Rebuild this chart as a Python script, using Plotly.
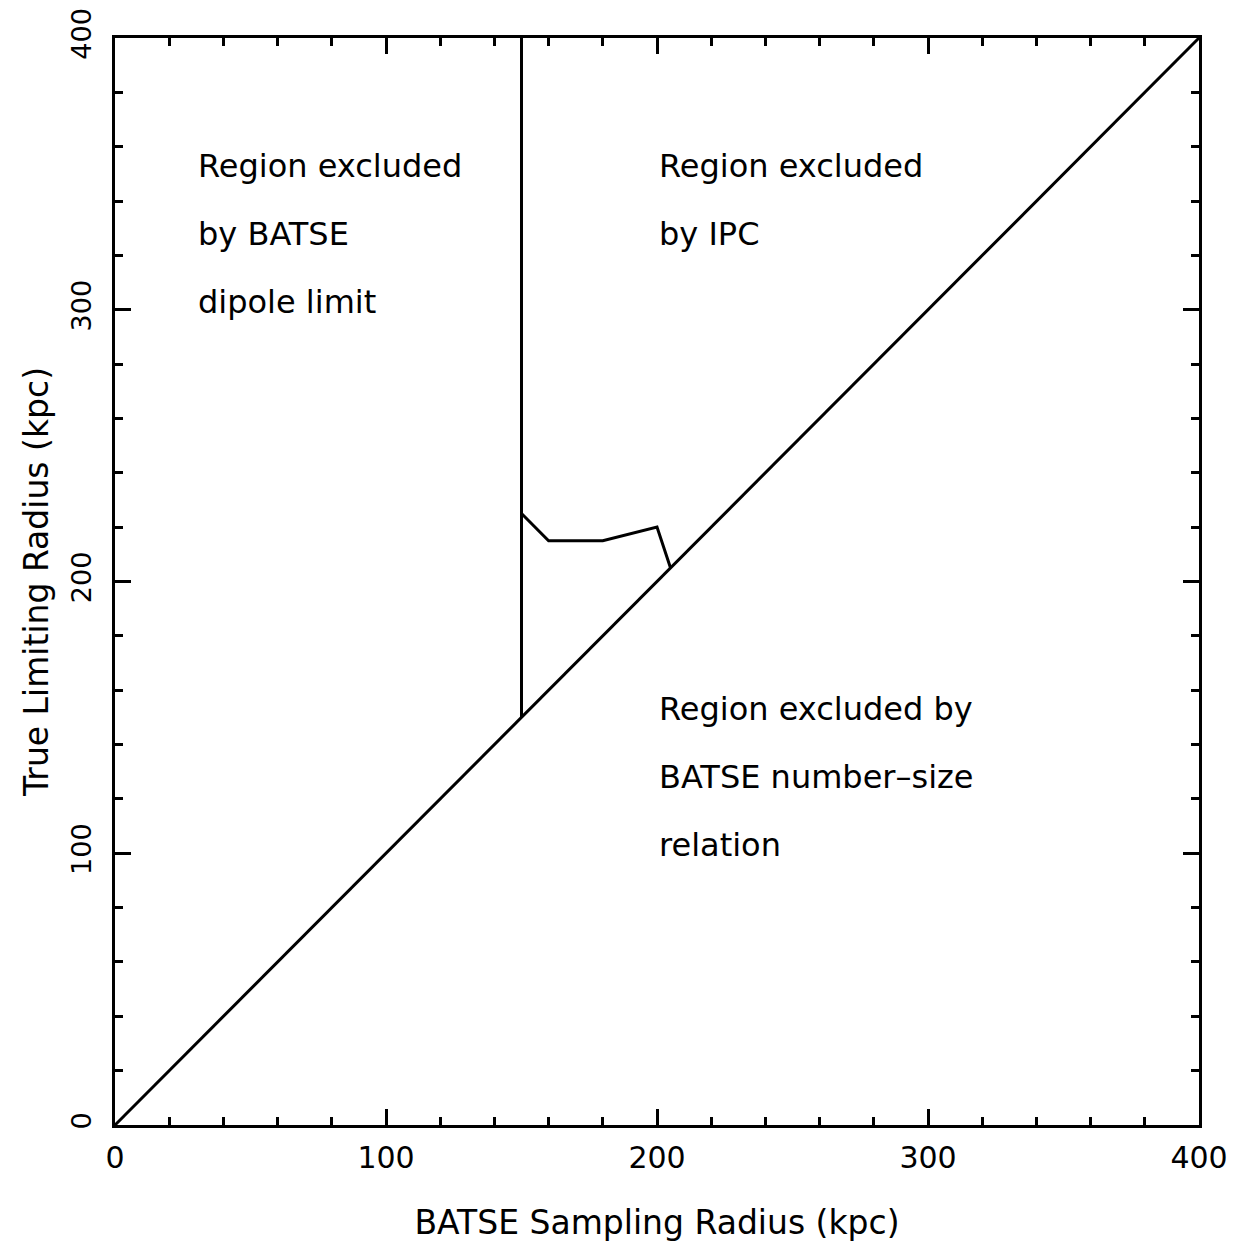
import plotly.graph_objects as go

# Data
diag_x = [0, 400]
diag_y = [0, 400]
batse_x = [150, 150]
batse_y = [150, 400]
ipc_x = [150, 160, 180, 200, 205]
ipc_y = [225, 215, 215, 220, 205]

label_texts = [
    "Region excluded", "by BATSE", "dipole limit",
    "Region excluded", "by IPC",
    "Region excluded by", "BATSE number\u2013size", "relation",
]
label_x = [30, 30, 30, 200, 200, 200, 200, 200]
label_y = [353, 328, 303, 353, 328, 153, 128, 103]

tick_vals = [0, 100, 200, 300, 400]
tick_text = ["0", "100", "200", "300", "400"]

FONT = "DejaVu Sans"
line = dict(color="black", width=3)

fig = go.Figure()
fig.add_trace(go.Scatter(x=diag_x, y=diag_y, mode="lines", line=line, showlegend=False))
fig.add_trace(go.Scatter(x=batse_x, y=batse_y, mode="lines", line=line, showlegend=False))
fig.add_trace(go.Scatter(x=ipc_x, y=ipc_y, mode="lines", line=line, showlegend=False))

for t, x, y in zip(label_texts, label_x, label_y):
    fig.add_annotation(x=x, y=y, text=t, showarrow=False, xanchor="left", yanchor="middle",
                       font=dict(family=FONT, size=32, color="black"))

axis_common = dict(
    range=[0, 400], showgrid=False, zeroline=False, automargin=False,
    showline=True, linecolor="black", linewidth=3, mirror="ticks",
    ticks="inside", ticklen=16, tickwidth=3, tickcolor="black",
    tickvals=tick_vals, ticktext=tick_text, ticklabeloverflow="allow",
    minor=dict(ticks="inside", ticklen=8, tickwidth=3, tickcolor="black", dtick=20, tick0=0, showgrid=False),
)

fig.update_layout(
    width=1238, height=1244,
    margin=dict(l=107, r=47, t=30, b=127),
    paper_bgcolor="white", plot_bgcolor="white",
    xaxis=dict(axis_common, ticklabelstandoff=4,
               tickfont=dict(family=FONT, size=30, color="black"),
               title=dict(text="BATSE Sampling Radius (kpc)", font=dict(family=FONT, size=33, color="black"), standoff=37)),
    yaxis=dict(axis_common, tickangle=-90, ticklabelstandoff=10,
               tickfont=dict(family=FONT, size=27, color="black"),
               title=dict(text="True Limiting Radius (kpc)", font=dict(family=FONT, size=33, color="black"), standoff=8)),
)

fig.write_html("out.html")
